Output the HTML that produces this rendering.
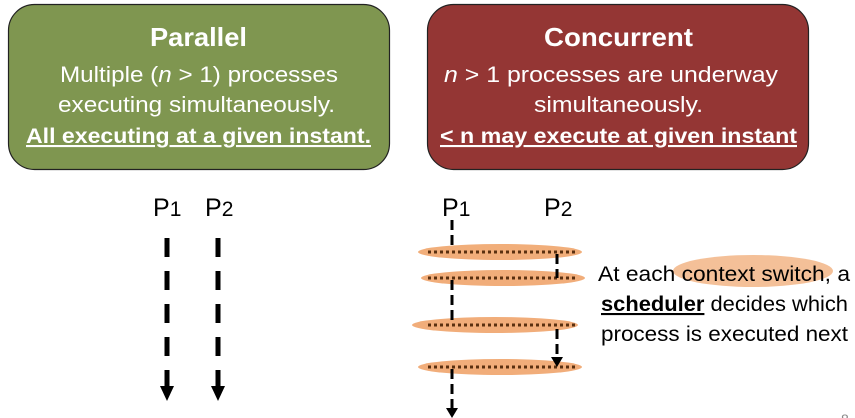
<!DOCTYPE html>
<html><head><meta charset="utf-8"><style>
html,body{margin:0;padding:0;background:#fff;}
svg{display:block;font-family:"Liberation Sans",sans-serif;}
</style></head><body>
<svg width="855" height="418" viewBox="0 0 855 418" xmlns="http://www.w3.org/2000/svg">
<rect x="8.5" y="4.5" width="381" height="165" rx="26" fill="#7F9650" stroke="#222" stroke-width="1.2"/>
<rect x="427.5" y="4.5" width="381" height="165" rx="26" fill="#943634" stroke="#222" stroke-width="1.2"/>
<g fill="#fff">
<text x="150" y="46" font-size="26" font-weight="bold" textLength="97" lengthAdjust="spacingAndGlyphs">Parallel</text>
<text x="60" y="82" font-size="22" textLength="278" lengthAdjust="spacingAndGlyphs">Multiple (<tspan font-style="italic">n</tspan> &gt; 1) processes</text>
<text x="58" y="112" font-size="22" textLength="277" lengthAdjust="spacingAndGlyphs">executing simultaneously.</text>
<text x="26" y="143" font-size="21" font-weight="bold" text-decoration="underline" textLength="345" lengthAdjust="spacingAndGlyphs">All executing at a given instant.</text>
<text x="544" y="46" font-size="26" font-weight="bold" textLength="149" lengthAdjust="spacingAndGlyphs">Concurrent</text>
<text x="444" y="82" font-size="22" textLength="334" lengthAdjust="spacingAndGlyphs"><tspan font-style="italic">n</tspan> &gt; 1 processes are underway</text>
<text x="534" y="112" font-size="22" textLength="169" lengthAdjust="spacingAndGlyphs">simultaneously.</text>
<text x="440" y="143" font-size="21" font-weight="bold" text-decoration="underline" textLength="357" lengthAdjust="spacingAndGlyphs">&lt; n may execute at given instant</text>
</g>
<g font-size="25" fill="#000">
<text x="153" y="216">P<tspan font-size="21">1</tspan></text>
<text x="205" y="216">P<tspan font-size="21">2</tspan></text>
<text x="442" y="216">P<tspan font-size="21">1</tspan></text>
<text x="544" y="216">P<tspan font-size="21">2</tspan></text>
</g>
<g stroke="#000" stroke-width="5" stroke-dasharray="19 14">
<line x1="167" y1="238" x2="167" y2="388"/>
<line x1="218" y1="238" x2="218" y2="388"/>
</g>
<polygon points="160,386 174,386 167,401" fill="#000"/>
<polygon points="211,386 225,386 218,401" fill="#000"/>
<g fill="#F0A56C" opacity="0.9">
<ellipse cx="500" cy="252" rx="82" ry="8"/>
<ellipse cx="503" cy="278" rx="82" ry="8"/>
<ellipse cx="495" cy="325" rx="83" ry="8"/>
<ellipse cx="500" cy="367" rx="82" ry="8"/>
</g>
<ellipse cx="753" cy="271" rx="80" ry="16" fill="#F0A56C" opacity="0.7"/>
<g stroke="#5a3010" stroke-width="3" stroke-dasharray="3 3">
<line x1="428" y1="252" x2="575" y2="252"/>
<line x1="428" y1="278" x2="578" y2="278"/>
<line x1="428" y1="325" x2="575" y2="325"/>
<line x1="428" y1="367" x2="575" y2="367"/>
</g>
<g stroke="#000" stroke-width="3" stroke-dasharray="10 5">
<line x1="452" y1="220" x2="452" y2="246"/>
<line x1="452" y1="280" x2="452" y2="325"/>
<line x1="452" y1="369" x2="452" y2="409"/>
<line x1="557" y1="254" x2="557" y2="278"/>
<line x1="557" y1="329" x2="557" y2="357"/>
</g>
<polygon points="446,408 458,408 452,418" fill="#000"/>
<polygon points="551,357 563,357 557,367" fill="#000"/>
<g font-size="21" fill="#000">
<text x="598" y="281" textLength="252" lengthAdjust="spacingAndGlyphs">At each context switch, a</text>
<text x="601" y="311" textLength="247" lengthAdjust="spacingAndGlyphs"><tspan font-weight="bold" text-decoration="underline">scheduler</tspan> decides which</text>
<text x="601" y="341" textLength="247" lengthAdjust="spacingAndGlyphs">process is executed next</text>
</g>
<text x="841" y="424" font-size="14" fill="#888">8</text>
</svg>
</body></html>
